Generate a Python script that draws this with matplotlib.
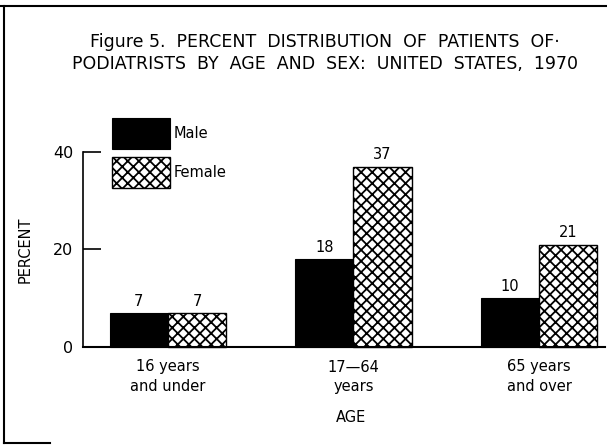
import matplotlib
matplotlib.use("Agg")
import matplotlib.pyplot as plt
from matplotlib.lines import Line2D
import numpy as np

categories = ["16 years\nand under", "17\u201464\nyears", "65 years\nand over"]
male = [7, 18, 10]
female = [7, 37, 21]
series_names = ["Male", "Female"]
yticks = [0, 20, 40]
title = "Figure 5.  PERCENT  DISTRIBUTION  OF  PATIENTS  OF\u00b7\nPODIATRISTS  BY  AGE  AND  SEX:  UNITED  STATES,  1970"

plt.rcParams['font.family'] = ['DejaVu Sans']
plt.rcParams['hatch.linewidth'] = 1.3

W, H = 607, 445
fig = plt.figure(figsize=(W / 100, H / 100), dpi=100)

ax_l, ax_r, ax_b, ax_t = 83, 605, 347, 152
ax = fig.add_axes([ax_l / W, 1 - ax_b / H, (ax_r - ax_l) / W, (ax_b - ax_t) / H])

x = np.arange(len(categories))
w = 0.313
b1 = ax.bar(x - w / 2, male, w, color='black', edgecolor='black', linewidth=0.8,
            label=series_names[0], clip_on=False)
b2 = ax.bar(x + w / 2, female, w, color='white', edgecolor='black', hatch='xxx',
            linewidth=1.0, label=series_names[1], clip_on=False)

for bars, vals in ((b1, male), (b2, female)):
    for rect, v in zip(bars, vals):
        ax.annotate(str(v), (rect.get_x() + rect.get_width() / 2, rect.get_height()),
                    xytext=(0, 3), textcoords='offset points', ha='center', va='bottom',
                    fontsize=10.5, annotation_clip=False)

ax.set_xlim(-0.458, 2.356)
ax.set_ylim(0, 40)
ax.set_yticks(yticks)
ax.tick_params(axis='y', direction='in', length=13, width=1.2, pad=7, labelsize=11.5)
ax.set_xticks(x)
ax.set_xticklabels(categories, fontsize=10.5, linespacing=1.35)
ax.tick_params(axis='x', length=0, pad=9)

for s in ('top', 'right'):
    ax.spines[s].set_visible(False)
ax.spines['left'].set_linewidth(1.2)
ax.spines['bottom'].set_linewidth(1.5)

ax.set_ylabel("PERCENT", fontsize=10.5)
ax.yaxis.set_label_coords(-0.097, 0.5)
ax.set_xlabel("AGE", fontsize=10.5, va='center')
ax.xaxis.set_label_coords(0.513, -0.364)

fs_leg = 10.5
fs_px = fs_leg * 100 / 72
hh = (31 / fs_px - 0.245) / 0.65
ax.legend(loc='upper left', bbox_to_anchor=(112 / W, 1 - 118 / H),
          bbox_transform=fig.transFigure, frameon=False, fontsize=fs_leg,
          handlelength=58 / fs_px, handleheight=hh,
          labelspacing=8 / fs_px, handletextpad=0.25, borderpad=0, borderaxespad=0)

fig.text(325 / W, 1 - 53 / H, title, ha='center', va='center', fontsize=12.5,
         linespacing=1.3)

# page frame lines
fig.add_artist(Line2D([0, 1], [1 - 6 / H, 1 - 6 / H], transform=fig.transFigure,
                      color='black', linewidth=1.5))
fig.add_artist(Line2D([4 / W, 4 / W], [1 - 6 / H, 1 - 443 / H], transform=fig.transFigure,
                      color='black', linewidth=1.5))
fig.add_artist(Line2D([4 / W, 50 / W], [1 - 443 / H, 1 - 443 / H], transform=fig.transFigure,
                      color='black', linewidth=1.5))

fig.savefig("out.png", dpi=100)
